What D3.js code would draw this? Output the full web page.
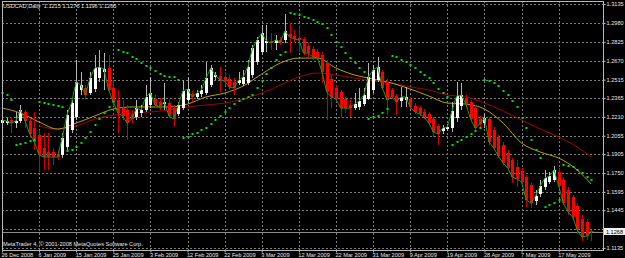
<!DOCTYPE html>
<html>
<head>
<meta charset="utf-8">
<script src="https://cdn.jsdelivr.net/npm/d3@7"></script>
<style>
  html, body { margin: 0; padding: 0; background: #000; }
  svg { display: block; }
  text { font-family: "Liberation Sans", Arial, sans-serif; }
</style>
</head>
<body>
<svg id="chart"></svg>
<script>
// USDCAD daily, 128 bars (26 Dec 2008 .. 25 May 2009)
let opens = [
  1.2159, 1.2159, 1.2184, 1.2159, 1.2176, 1.2250, 1.2176, 1.2118, 1.2061, 1.1954,
  1.1922, 1.1922, 1.1905, 1.1897, 1.1963, 1.2102, 1.2209, 1.2430, 1.2446, 1.2405,
  1.2438, 1.2528, 1.2578, 1.2610, 1.2446, 1.2348, 1.2282, 1.2266, 1.2233, 1.2209,
  1.2241, 1.2266, 1.2307, 1.2356, 1.2332, 1.2315, 1.2323, 1.2282, 1.2233, 1.2282,
  1.2348, 1.2397, 1.2373, 1.2397, 1.2405, 1.2471, 1.2537, 1.2545, 1.2537, 1.2520,
  1.2496, 1.2487, 1.2479, 1.2487, 1.2553, 1.2660, 1.2742, 1.2815, 1.2832, 1.2815,
  1.2840, 1.2840, 1.2889, 1.2873, 1.2856, 1.2848, 1.2791, 1.2766, 1.2742, 1.2717,
  1.2651, 1.2520, 1.2446, 1.2414, 1.2356, 1.2307, 1.2282, 1.2291, 1.2315, 1.2356,
  1.2430, 1.2512, 1.2578, 1.2496, 1.2430, 1.2381, 1.2340, 1.2348, 1.2356, 1.2299,
  1.2282, 1.2250, 1.2233, 1.2192, 1.2135, 1.2094, 1.2110, 1.2118, 1.2200, 1.2299,
  1.2364, 1.2332, 1.2282, 1.2192, 1.2159, 1.2192, 1.2102, 1.2045, 1.1979, 1.1913,
  1.1856, 1.1799, 1.1766, 1.1717, 1.1651, 1.1520, 1.1577, 1.1635, 1.1676, 1.1692,
  1.1758, 1.1692, 1.1610, 1.1553, 1.1479, 1.1372, 1.1348, 1.1276
]
let highs = [
  1.2209, 1.2200, 1.2209, 1.2250, 1.2307, 1.2266, 1.2200, 1.2250, 1.2102, 1.2077,
  1.2077, 1.1954, 1.1938, 1.2077, 1.2266, 1.2348, 1.2676, 1.2578, 1.2471, 1.2578,
  1.2717, 1.2758, 1.2733, 1.2717, 1.2512, 1.2430, 1.2348, 1.2307, 1.2266, 1.2348,
  1.2307, 1.2471, 1.2537, 1.2389, 1.2364, 1.2487, 1.2348, 1.2307, 1.2332, 1.2512,
  1.2537, 1.2422, 1.2430, 1.2471, 1.2660, 1.2635, 1.2578, 1.2619, 1.2578, 1.2553,
  1.2528, 1.2578, 1.2594, 1.2676, 1.2799, 1.2865, 1.2963, 1.2963, 1.2897, 1.2881,
  1.2865, 1.3053, 1.2979, 1.2922, 1.2963, 1.2865, 1.2815, 1.2783, 1.2766, 1.2742,
  1.2676, 1.2553, 1.2471, 1.2430, 1.2373, 1.2348, 1.2405, 1.2446, 1.2446, 1.2651,
  1.2635, 1.2701, 1.2594, 1.2520, 1.2446, 1.2397, 1.2455, 1.2455, 1.2373, 1.2323,
  1.2299, 1.2274, 1.2250, 1.2209, 1.2151, 1.2143, 1.2151, 1.2332, 1.2496, 1.2487,
  1.2389, 1.2348, 1.2307, 1.2217, 1.2241, 1.2209, 1.2127, 1.2061, 1.2004, 1.1938,
  1.1872, 1.1856, 1.1790, 1.1733, 1.1667, 1.1610, 1.1692, 1.1774, 1.1758, 1.1807,
  1.1790, 1.1717, 1.1635, 1.1569, 1.1503, 1.1405, 1.1372, 1.1280
]
let lows = [
  1.2143, 1.2143, 1.2077, 1.2118, 1.2159, 1.2118, 1.2036, 1.1938, 1.1758, 1.1774,
  1.1774, 1.1815, 1.1856, 1.1872, 1.1938, 1.2077, 1.2184, 1.2389, 1.2348, 1.2389,
  1.2414, 1.2496, 1.2430, 1.2414, 1.2299, 1.2077, 1.2184, 1.2020, 1.2159, 1.2184,
  1.2209, 1.2250, 1.2282, 1.2282, 1.2266, 1.2266, 1.2200, 1.2127, 1.2217, 1.2266,
  1.2323, 1.2332, 1.2356, 1.2373, 1.2389, 1.2455, 1.2512, 1.2414, 1.2471, 1.2430,
  1.2389, 1.2471, 1.2463, 1.2471, 1.2528, 1.2635, 1.2717, 1.2742, 1.2758, 1.2758,
  1.2799, 1.2815, 1.2733, 1.2815, 1.2742, 1.2717, 1.2701, 1.2676, 1.2676, 1.2487,
  1.2184, 1.2282, 1.2332, 1.2209, 1.2241, 1.2209, 1.2266, 1.2266, 1.2299, 1.2348,
  1.2405, 1.2496, 1.2430, 1.2225, 1.2356, 1.2225, 1.2291, 1.2291, 1.2274, 1.2233,
  1.2217, 1.2192, 1.2143, 1.2045, 1.1979, 1.2069, 1.2094, 1.2086, 1.2168, 1.2266,
  1.2291, 1.2176, 1.2086, 1.2127, 1.2118, 1.1979, 1.1938, 1.1872, 1.1815, 1.1774,
  1.1667, 1.1635, 1.1659, 1.1471, 1.1462, 1.1487, 1.1553, 1.1610, 1.1659, 1.1676,
  1.1626, 1.1487, 1.1405, 1.1364, 1.1249, 1.1192, 1.1200, 1.1196
]
let closes = [
  1.2184, 1.2176, 1.2159, 1.2176, 1.2266, 1.2176, 1.2069, 1.2004, 1.1897, 1.1881,
  1.1881, 1.1881, 1.1881, 1.2036, 1.2225, 1.2323, 1.2496, 1.2471, 1.2389, 1.2528,
  1.2610, 1.2619, 1.2602, 1.2430, 1.2332, 1.2241, 1.2217, 1.2159, 1.2192, 1.2282,
  1.2266, 1.2373, 1.2405, 1.2307, 1.2291, 1.2332, 1.2217, 1.2192, 1.2307, 1.2422,
  1.2438, 1.2373, 1.2405, 1.2430, 1.2528, 1.2610, 1.2553, 1.2512, 1.2504, 1.2455,
  1.2446, 1.2512, 1.2537, 1.2619, 1.2774, 1.2840, 1.2897, 1.2832, 1.2815, 1.2840,
  1.2824, 1.2914, 1.2865, 1.2848, 1.2840, 1.2733, 1.2733, 1.2701, 1.2692, 1.2578,
  1.2414, 1.2373, 1.2356, 1.2282, 1.2282, 1.2282, 1.2315, 1.2340, 1.2389, 1.2537,
  1.2594, 1.2619, 1.2446, 1.2348, 1.2373, 1.2332, 1.2373, 1.2373, 1.2291, 1.2250,
  1.2233, 1.2209, 1.2159, 1.2086, 1.2069, 1.2118, 1.2127, 1.2258, 1.2381, 1.2389,
  1.2315, 1.2192, 1.2118, 1.2151, 1.2200, 1.2004, 1.1954, 1.1889, 1.1831, 1.1790,
  1.1717, 1.1700, 1.1676, 1.1528, 1.1503, 1.1561, 1.1643, 1.1708, 1.1725, 1.1774,
  1.1643, 1.1503, 1.1430, 1.1389, 1.1282, 1.1225, 1.1233, 1.1265
]

// parabolic SAR, one dot per bar
let sar = [
  1.2405, 1.2389, 1.2348, 1.1979, 1.1987, 1.1995, 1.2012, 1.2020, 1.2332, 1.2323,
  1.2315, 1.2307, 1.2299, 1.2291, 1.1930, 1.1938, 1.1963, 1.1995, 1.2036, 1.2086,
  1.2143, 1.2192, 1.2241, 1.2291, 1.2332, 1.2758, 1.2742, 1.2733, 1.2701, 1.2684,
  1.2651, 1.2627, 1.2610, 1.2586, 1.2561, 1.2545, 1.2537, 1.2537, 1.2512, 1.2036,
  1.2045, 1.2069, 1.2077, 1.2102, 1.2118, 1.2151, 1.2184, 1.2217, 1.2250, 1.2282,
  1.2315, 1.2340, 1.2356, 1.2373, 1.2389, 1.2446, 1.2504, 1.2561, 1.2610, 1.2676,
  1.2717, 1.2742, 1.3061, 1.3053, 1.3045, 1.3029, 1.3020, 1.3004, 1.2988, 1.2971,
  1.2938, 1.2881, 1.2824, 1.2783, 1.2733, 1.2692, 1.2651, 1.2610, 1.2578, 1.2192,
  1.2209, 1.2217, 1.2241, 1.2274, 1.2709, 1.2701, 1.2676, 1.2660, 1.2635, 1.2610,
  1.2578, 1.2553, 1.2528, 1.2487, 1.2438, 1.2405, 1.2373, 1.1979, 1.2004, 1.2020,
  1.2045, 1.2069, 1.2094, 1.2118, 1.2512, 1.2504, 1.2487, 1.2463, 1.2422, 1.2389,
  1.2340, 1.2291, 1.2200, 1.2118, 1.2020, 1.1938, 1.1872, 1.1471, 1.1487, 1.1503,
  1.1528, 1.1815, 1.1807, 1.1799, 1.1774, 1.1750, 1.1717, 1.1692
]

// moving averages, read every 4th bar
let maIdx = [0, 4, 8, 12, 16, 20, 24, 28, 32, 36, 40, 44, 48, 52, 56, 60, 64,
  68, 72, 76, 80, 84, 88, 92, 96, 100, 104, 108, 112, 116, 120, 124, 127]
let yellowMA = [1.2282, 1.2241, 1.2168, 1.2110, 1.2159, 1.2217, 1.2274, 1.2291,
  1.2291, 1.2291, 1.2315, 1.2373, 1.2405, 1.2463, 1.2561, 1.2651, 1.2692, 1.2692,
  1.2610, 1.2553, 1.2520, 1.2487, 1.2438, 1.2381, 1.2323, 1.2315, 1.2274, 1.2159,
  1.1995, 1.1922, 1.1872, 1.1774, 1.1659]
let redMA = [null, null, 1.2135, 1.2110, 1.2135, 1.2192, 1.2225, 1.2241, 1.2250,
  1.2266, 1.2291, 1.2307, 1.2323, 1.2356, 1.2405, 1.2471, 1.2537, 1.2569, 1.2553,
  1.2528, 1.2504, 1.2487, 1.2455, 1.2430, 1.2389, 1.2373, 1.2323, 1.2258, 1.2184,
  1.2110, 1.2045, 1.1963, 1.1881]

let priceTicks = [1.3135, 1.2980, 1.2825, 1.2670, 1.2515, 1.2365, 1.2210, 1.2055,
  1.1905, 1.1750, 1.1595, 1.1445, 1.1290, 1.1135]
let hiddenTick = 1.1290   // covered by the bid box
let dateIdx = [0, 8, 16, 24, 32, 40, 48, 56, 64, 72, 80, 88, 96, 104, 112, 120]
let dateLabels = ['26 Dec 2008', '6 Jan 2009', '15 Jan 2009', '25 Jan 2009', '3 Feb 2009',
  '12 Feb 2009', '22 Feb 2009', '3 Mar 2009', '12 Mar 2009', '22 Mar 2009', '31 Mar 2009',
  '9 Apr 2009', '19 Apr 2009', '28 Apr 2009', '7 May 2009', '17 May 2009']
let headerOHLC = [1.1215, 1.1276, 1.1196, 1.1265]
let bidPrice = 1.1268

let width = 625
let height = 258
let plotL = 2, plotR = 603, plotT = 1, plotB = 250

let svg = d3.select('#chart').attr('width', width).attr('height', height)

let x = d3.scaleLinear().domain([0, 127]).range([1.9, 591.2])
let y = d3.scaleLinear().domain([1.1135, 1.3135]).range([248, 4])

svg.append('rect').attr('width', width).attr('height', height).attr('fill', '#000')

// grid
let grid = svg.append('g').attr('stroke', '#7a7a7a').attr('stroke-width', 1)
  .attr('stroke-dasharray', '2,2').attr('shape-rendering', 'crispEdges')
grid.selectAll('.gx').data(dateIdx).enter().append('line')
  .attr('x1', d => Math.round(x(d)) + 0.5).attr('x2', d => Math.round(x(d)) + 0.5)
  .attr('y1', plotT).attr('y2', plotB)
grid.selectAll('.gy').data(priceTicks).enter().append('line')
  .attr('x1', plotL).attr('x2', plotR)
  .attr('y1', d => Math.round(y(d)) + 0.5).attr('y2', d => Math.round(y(d)) + 0.5)

// bid line
svg.append('line')
  .attr('x1', plotL).attr('x2', plotR)
  .attr('y1', Math.round(y(bidPrice)) + 0.5).attr('y2', Math.round(y(bidPrice)) + 0.5)
  .attr('stroke', '#8c8c8c').attr('shape-rendering', 'crispEdges')

// moving averages
let maLine = d3.line()
  .defined(d => d[1] != null)
  .x(d => x(d[0])).y(d => y(d[1]))
  .curve(d3.curveMonotoneX)

svg.append('path').datum(maIdx.map((d, i) => [d, redMA[i]]))
  .attr('d', maLine).attr('fill', 'none').attr('stroke', '#a00000').attr('stroke-width', 1)
svg.append('path').datum(maIdx.map((d, i) => [d, yellowMA[i]]))
  .attr('d', maLine).attr('fill', 'none').attr('stroke', '#b4a200').attr('stroke-width', 1)

// candles
let bars = closes.map((c, i) => ({ i: i, o: opens[i], h: highs[i], l: lows[i], c: c }))
let cg = svg.append('g').attr('shape-rendering', 'crispEdges')

cg.selectAll('.wick').data(bars).enter().append('line')
  .attr('x1', d => Math.round(x(d.i)) + 0.5).attr('x2', d => Math.round(x(d.i)) + 0.5)
  .attr('y1', d => y(d.h)).attr('y2', d => y(d.l))
  .attr('stroke', d => d.c >= d.o ? '#b4b4b4' : '#d00000')

cg.selectAll('.body').data(bars).enter().append('rect')
  .attr('x', d => Math.round(x(d.i)) - 1)
  .attr('width', 3)
  .attr('y', d => y(Math.max(d.o, d.c)))
  .attr('height', d => Math.max(1, Math.abs(y(d.o) - y(d.c))))
  .attr('fill', d => d.c >= d.o ? '#ffffff' : '#ff0000')

// close line
svg.append('path').datum(closes)
  .attr('d', d3.line().x((d, i) => x(i)).y(d => y(d)))
  .attr('fill', 'none').attr('stroke', '#12a012').attr('stroke-width', 1)

// SAR dots
svg.append('g').selectAll('rect').data(sar).enter().append('rect')
  .attr('x', (d, i) => Math.round(x(i)) - 0.5)
  .attr('y', d => Math.round(y(d)) - 1)
  .attr('width', 2).attr('height', 2)
  .attr('fill', '#00e000')

// frame
svg.append('rect')
  .attr('x', plotL + 0.5).attr('y', plotT + 0.5)
  .attr('width', plotR - plotL).attr('height', plotB - plotT)
  .attr('fill', 'none').attr('stroke', '#b8b8b8').attr('shape-rendering', 'crispEdges')

// price axis
let yAxis = d3.axisRight(y).tickValues(priceTicks)
  .tickFormat(d => d === hiddenTick ? '' : d3.format('.4f')(d)).tickSize(2).tickPadding(1)
let ya = svg.append('g').attr('transform', 'translate(' + (plotR + 0.5) + ',0)').call(yAxis)
ya.select('.domain').remove()
ya.selectAll('line').attr('stroke', '#b8b8b8')
ya.selectAll('text').attr('fill', '#e6e6e6').style('font-size', '5.6px')

// date axis
let xAxis = d3.axisBottom(x).tickValues(dateIdx)
  .tickFormat((d, i) => dateLabels[i]).tickSize(2)
let xa = svg.append('g').attr('transform', 'translate(0,' + (plotB + 0.5) + ')').call(xAxis)
xa.select('.domain').remove()
xa.selectAll('line').attr('stroke', '#b8b8b8')
xa.selectAll('text')
  .attr('fill', '#e6e6e6').style('font-size', '5.6px')
  .attr('text-anchor', 'start').attr('x', -1).attr('dy', null).attr('y', 6)

// bid price box
let by = y(bidPrice)
svg.append('rect').attr('x', 604).attr('y', by - 3.8).attr('width', 21).attr('height', 7)
  .attr('fill', '#f2f2f2')
svg.append('text').attr('x', 614.5).attr('y', by + 2)
  .attr('text-anchor', 'middle').attr('fill', '#000').style('font-size', '5.6px')
  .text(d3.format('.4f')(bidPrice))

// captions
svg.append('text').attr('x', 3).attr('y', 8.3)
  .attr('fill', '#e6e6e6').style('font-size', '5.6px').attr('xml:space', 'preserve')
  .text('USDCAD,Daily  ' + headerOHLC.map(d3.format('.4f')).join(' '))
svg.append('text').attr('x', 3).attr('y', 246)
  .attr('fill', '#e6e6e6').style('font-size', '5.6px')
  .text('MetaTrader 4, \u00a9 2001-2008 MetaQuotes Software Corp.')
</script>
</body>
</html>
